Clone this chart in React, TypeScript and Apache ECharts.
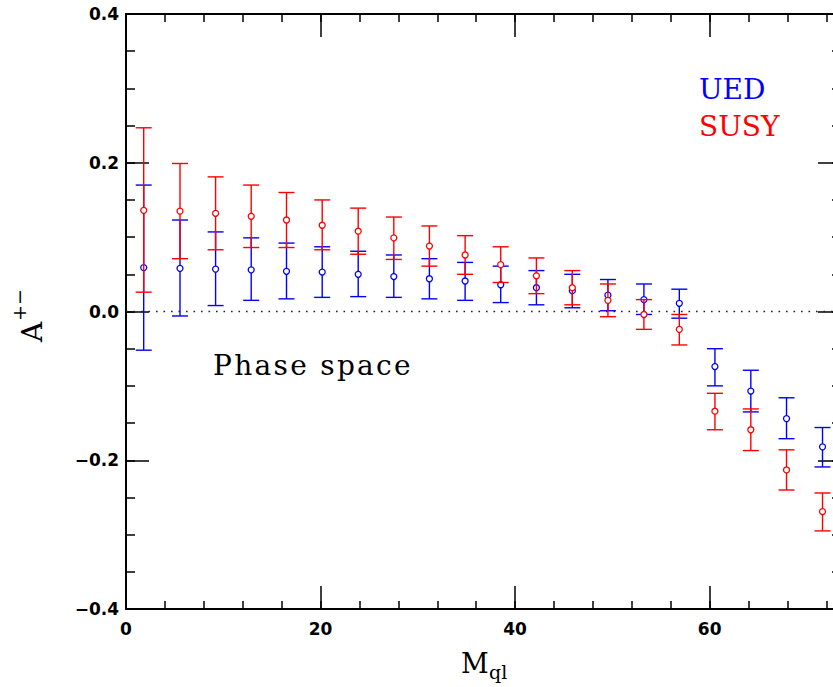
import React, { useEffect, useRef } from 'react';
import * as echarts from 'echarts';

// bin centres (M_ql)
const xs = [1.82, 5.55, 9.21, 12.87, 16.5, 20.17, 23.87, 27.53, 31.19, 34.86, 38.52, 42.19, 45.88, 49.54, 53.24, 56.88, 60.54, 64.23, 67.9, 71.6];

// UED asymmetry, upper and lower error-bar ends
const ued = [0.059, 0.058, 0.057, 0.056, 0.054, 0.053, 0.050, 0.047, 0.044, 0.041, 0.036, 0.032, 0.028, 0.022, 0.016, 0.011, -0.074, -0.107, -0.144, -0.182];
const uedHi = [0.170, 0.123, 0.107, 0.099, 0.092, 0.087, 0.081, 0.076, 0.071, 0.066, 0.061, 0.055, 0.050, 0.043, 0.037, 0.030, -0.050, -0.079, -0.116, -0.156];
const uedLo = [-0.052, -0.006, 0.008, 0.015, 0.017, 0.019, 0.020, 0.019, 0.017, 0.015, 0.012, 0.009, 0.005, 0.001, -0.004, -0.009, -0.100, -0.135, -0.171, -0.209];

// SUSY asymmetry, upper and lower error-bar ends
const susy = [0.136, 0.135, 0.132, 0.128, 0.123, 0.116, 0.108, 0.099, 0.088, 0.076, 0.063, 0.048, 0.032, 0.015, -0.004, -0.024, -0.134, -0.159, -0.213, -0.269];
const susyHi = [0.247, 0.199, 0.181, 0.170, 0.160, 0.150, 0.139, 0.127, 0.115, 0.102, 0.087, 0.072, 0.055, 0.037, 0.016, -0.004, -0.110, -0.131, -0.186, -0.244];
const susyLo = [0.026, 0.071, 0.083, 0.086, 0.086, 0.083, 0.077, 0.070, 0.061, 0.050, 0.039, 0.024, 0.009, -0.007, -0.024, -0.045, -0.159, -0.187, -0.240, -0.295];

// axis ranges and tick steps
const X_MIN = 0;
const X_MAX = 73.5;
const X_MAJOR = 20;
const X_MINOR = 4;
const Y_MIN = -0.4;
const Y_MAX = 0.4;
const Y_MAJOR = 0.2;
const Y_MINOR = 0.05;
const zeroLine = [[X_MIN, 0], [X_MAX, 0]];

const BLUE = '#0000ff';
const RED = '#ff0000';
const SERIF = '"DejaVu Serif", serif';
const SANS = '"DejaVu Sans", sans-serif';

const fmtY = (v: number) => {
  const s = Math.abs(v).toFixed(1);
  return v < -1e-9 ? '\u2212' + s : s;
};

function errorSeries(name: string, color: string, vals: number[], lo: number[], hi: number[], z: number) {
  return {
    type: 'custom',
    name,
    xAxisIndex: 0,
    yAxisIndex: 0,
    z,
    clip: false,
    data: xs.map((x, i) => [x, vals[i], lo[i], hi[i]]),
    encode: { x: 0, y: [1, 2, 3] },
    renderItem: (params: any, api: any) => {
      const x = api.value(0);
      const c = api.coord([x, api.value(1)]);
      const l = api.coord([x, api.value(2)]);
      const h = api.coord([x, api.value(3)]);
      const hw = 8;
      const ls = { stroke: color, lineWidth: 1.4 };
      return {
        type: 'group',
        children: [
          { type: 'line', shape: { x1: c[0], y1: h[1], x2: c[0], y2: l[1] }, style: ls },
          { type: 'line', shape: { x1: c[0] - hw, y1: h[1], x2: c[0] + hw, y2: h[1] }, style: ls },
          { type: 'line', shape: { x1: c[0] - hw, y1: l[1], x2: c[0] + hw, y2: l[1] }, style: ls },
          { type: 'circle', shape: { cx: c[0], cy: c[1], r: 3 }, style: { stroke: color, fill: '#ffffff', lineWidth: 1.3 } },
        ],
      };
    },
  };
}

function xAx(grid: number, position: string, interval: number, len: number, showLine: boolean, labels: boolean) {
  return {
    type: 'value',
    gridIndex: grid,
    position,
    min: X_MIN,
    max: X_MAX,
    interval,
    splitLine: { show: false },
    axisLine: { show: showLine, onZero: false, lineStyle: { color: '#000', width: 2 } },
    axisTick: { show: true, inside: true, length: len, lineStyle: { color: '#000', width: 1.5 } },
    axisLabel: {
      show: labels,
      margin: 11,
      color: '#000',
      fontFamily: SANS,
      fontWeight: 'bold',
      fontSize: 17,
      formatter: (v: number) => (Math.abs(v % X_MAJOR) < 1e-9 ? String(v) : ''),
    },
  };
}

function yAx(grid: number, position: string, interval: number, len: number, showLine: boolean, labels: boolean) {
  return {
    type: 'value',
    gridIndex: grid,
    position,
    min: Y_MIN,
    max: Y_MAX,
    interval,
    splitLine: { show: false },
    axisLine: { show: showLine, onZero: false, lineStyle: { color: '#000', width: 2 } },
    axisTick: { show: true, inside: true, length: len, lineStyle: { color: '#000', width: 1.5 } },
    axisLabel: {
      show: labels,
      margin: 7,
      color: '#000',
      fontFamily: SANS,
      fontWeight: 'bold',
      fontSize: 17,
      formatter: fmtY,
    },
  };
}

export default function App() {
  const ref = useRef<HTMLDivElement>(null);
  useEffect(() => {
    if (!ref.current) return;
    const chart = echarts.init(ref.current, undefined, { renderer: 'svg' });
    const gridRect = { left: 126, top: 14, width: 715, height: 595 };
    chart.setOption({
      animation: false,
      backgroundColor: '#ffffff',
      grid: [{ ...gridRect }, { ...gridRect }],
      xAxis: [
        xAx(0, 'bottom', X_MINOR, 8, true, false),
        xAx(0, 'top', X_MINOR, 8, true, false),
        xAx(1, 'bottom', X_MAJOR, 23, false, true),
        xAx(1, 'top', X_MAJOR, 23, false, false),
      ],
      yAxis: [
        yAx(0, 'left', Y_MINOR, 9, true, false),
        yAx(0, 'right', Y_MINOR, 9, true, false),
        yAx(1, 'left', Y_MAJOR, 23, false, true),
        yAx(1, 'right', Y_MAJOR, 23, false, false),
      ],
      series: [
        {
          type: 'line',
          xAxisIndex: 0,
          yAxisIndex: 0,
          data: zeroLine,
          showSymbol: false,
          symbol: 'none',
          silent: true,
          z: 1,
          lineStyle: { color: '#222', width: 1.5, type: [1.6, 5.9] },
        },
        errorSeries('UED', BLUE, ued, uedLo, uedHi, 2),
        errorSeries('SUSY', RED, susy, susyLo, susyHi, 3),
      ],
      graphic: [
        { type: 'text', x: 699, y: 89.5, style: { text: 'UED', fill: BLUE, font: '28px ' + SERIF, align: 'left', verticalAlign: 'middle', textAlign: 'left', textVerticalAlign: 'middle' } },
        { type: 'text', x: 699, y: 126.5, style: { text: 'SUSY', fill: RED, font: '28px ' + SERIF, align: 'left', verticalAlign: 'middle', textAlign: 'left', textVerticalAlign: 'middle' } },
        { type: 'text', x: 213, y: 365.5, style: { text: 'Phase space', fill: '#010101', font: '28px ' + SERIF, align: 'left', verticalAlign: 'middle', textAlign: 'left', textVerticalAlign: 'middle' } },
        { type: 'text', x: 461, y: 663.5, style: { text: 'M', fill: '#000', font: '27px ' + SERIF, align: 'left', verticalAlign: 'middle', textAlign: 'left', textVerticalAlign: 'middle' } },
        { type: 'text', x: 489, y: 672, style: { text: 'ql', fill: '#000', font: '19px ' + SERIF, align: 'left', verticalAlign: 'middle', textAlign: 'left', textVerticalAlign: 'middle' } },
        { type: 'text', x: 32, y: 332, rotation: Math.PI / 2, style: { text: 'A', fill: '#000', font: '28px ' + SERIF, align: 'center', verticalAlign: 'middle', textAlign: 'center', textVerticalAlign: 'middle' } },
        { type: 'text', x: 19, y: 305, rotation: Math.PI / 2, style: { text: '+\u2212', fill: '#000', font: '19px ' + SERIF, align: 'center', verticalAlign: 'middle', textAlign: 'center', textVerticalAlign: 'middle' } },
      ],
    });
    return () => chart.dispose();
  }, []);
  return (
    <>
      <style>{'#chart text[fill="#010101"]{letter-spacing:2.3px}'}</style>
      <div
        id="chart"
        ref={ref}
        style={{ position: 'fixed', left: 0, top: 0, width: 860, height: 687, background: '#fff' }}
      />
    </>
  );
}
